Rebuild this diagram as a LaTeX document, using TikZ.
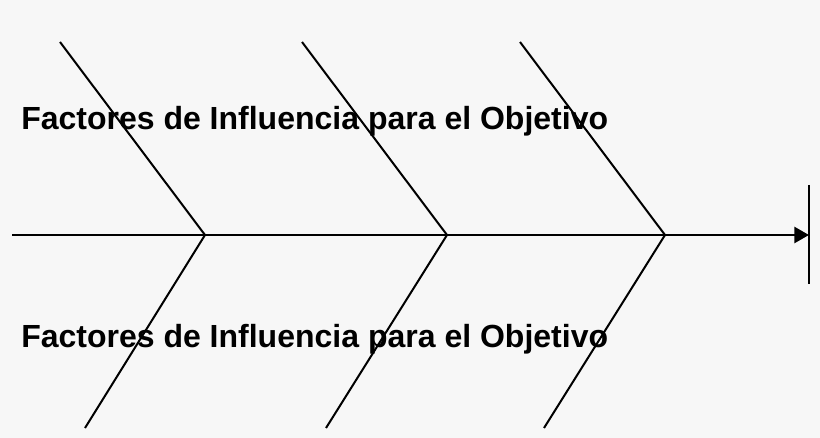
\documentclass[tikz,border=0pt]{standalone}
\usepackage{fontspec}
\setmainfont{Liberation Sans}
\usetikzlibrary{arrows.meta,positioning}

\begin{document}
\begin{tikzpicture}[x=0.75pt,y=-0.75pt,line join=miter,
  spine/.style={draw,line width=1.9pt},
  bone/.style={draw,line width=1.5pt},
  label/.style={inner sep=0pt,anchor=base west,font=\bfseries\fontsize{24}{28}\selectfont}]

  \path[fill={rgb,255:red,247;green,247;blue,247}] (0,0) rectangle (820,438);
  \useasboundingbox (0,0) rectangle (820,438);

  \coordinate (tail) at (12,235);
  \coordinate (head) at (809,235);
  \coordinate (j1) at (205,235);
  \coordinate (j2) at (447,235);
  \coordinate (j3) at (665,235);
  \coordinate (t1) at (60,42);
  \coordinate (t2) at (302,42);
  \coordinate (t3) at (520,42);
  \coordinate (b1) at (85,428);
  \coordinate (b2) at (326,428);
  \coordinate (b3) at (544,428);
  \coordinate (bartop) at (809,185);
  \coordinate (barbot) at (809,284);

  \node[label] (upper) at (21,130) {Factores de Influencia para el Objetivo};
  \node[label] (lower) at (21,347) {Factores de Influencia para el Objetivo};

  \path[spine,-{Triangle[length=11pt,width=12pt]}] (tail) -- (head);
  \path[bone] (bartop) -- (barbot);

  \path[bone] (t1) -- (j1) -- (b1);
  \path[bone] (t2) -- (j2) -- (b2);
  \path[bone] (t3) -- (j3) -- (b3);

\end{tikzpicture}
\end{document}
